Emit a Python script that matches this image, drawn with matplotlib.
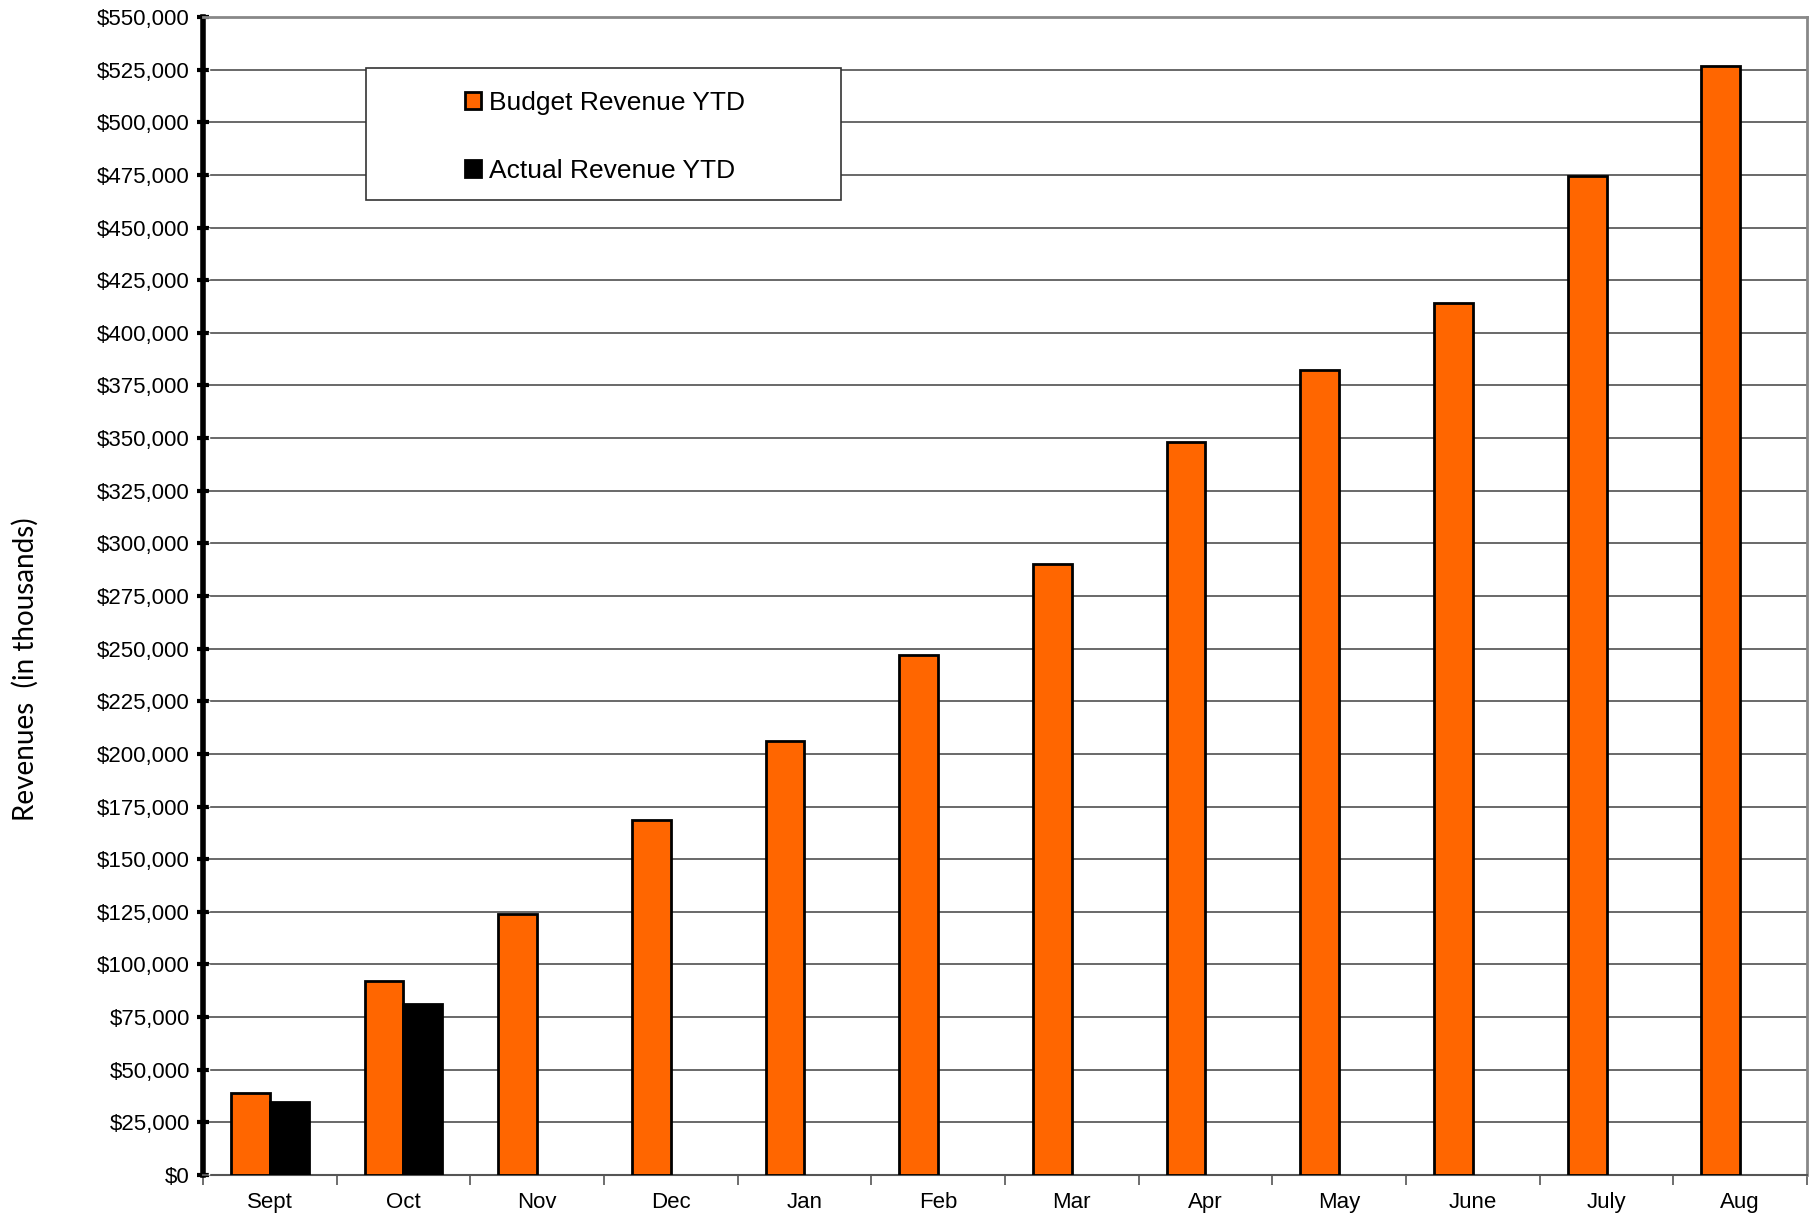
import numpy as np
import matplotlib
matplotlib.use("Agg")
import matplotlib.pyplot as plt
from matplotlib.patches import Rectangle
from matplotlib.ticker import FuncFormatter, MultipleLocator

# data
months = ["Sept", "Oct", "Nov", "Dec", "Jan", "Feb", "Mar", "Apr", "May", "June", "July", "Aug"]
budget_ytd = [39000, 92000, 124000, 168500, 206000, 247000, 290000, 348000, 382500, 414000, 474500, 526500]
actual_ytd = [34500, 81000, np.nan, np.nan, np.nan, np.nan, np.nan, np.nan, np.nan, np.nan, np.nan, np.nan]

ORANGE = "#FF6600"
GRID = "#404040"
FAM = "Liberation Sans"

fig = plt.figure(figsize=(18.17, 12.13), dpi=100)
ax = fig.add_axes([0.1117, 0.0313, 0.9945 - 0.1117, 0.986 - 0.0313])

x = np.arange(len(months))
w = 0.29
ax.bar(x - w / 2, budget_ytd, w, color=ORANGE, edgecolor="black", lw=2,
       label="Budget Revenue YTD", zorder=3)
ax.bar(x + w / 2, actual_ytd, w, color="black", edgecolor="black", lw=2,
       label="Actual Revenue YTD", zorder=3)

ax.set_xlim(-0.5, len(months) - 0.5)
ax.set_ylim(0, 550000)

# y axis
ax.yaxis.set_major_locator(MultipleLocator(25000))
ax.yaxis.set_major_formatter(FuncFormatter(lambda v, p: f"${v:,.0f}"))
ax.tick_params(axis="y", direction="inout", length=9, width=3, color="black",
               labelsize=16, pad=5)
ax.grid(axis="y", color=GRID, lw=1.1, zorder=0)
ax.set_axisbelow(True)

# x axis: ticks at boundaries, labels at centres
ax.set_xticks(np.arange(len(months) + 1) - 0.5)
ax.set_xticklabels([])
ax.set_xticks(x, minor=True)
ax.set_xticklabels(months, minor=True)
ax.tick_params(axis="x", which="major", direction="out", length=7, width=1.2, color="#555555")
ax.tick_params(axis="x", which="minor", length=0, labelsize=16, pad=12)

for lab in ax.get_xticklabels(minor=True) + ax.get_yticklabels():
    lab.set_fontfamily(FAM)

# spines
ax.spines["left"].set_linewidth(4)
ax.spines["left"].set_color("black")
ax.spines["bottom"].set_color("#555555")
ax.spines["bottom"].set_linewidth(1.5)
ax.spines["top"].set_color("#888888")
ax.spines["top"].set_linewidth(2)
ax.spines["right"].set_color("#888888")
ax.spines["right"].set_linewidth(2)
# notched look on the thick left axis
ax.plot([0.0035, 0.0035], [0, 1], transform=ax.transAxes, color="white", lw=1,
        ls=(0, (2, 3)), zorder=5, clip_on=False)

fig.text(0.014, 0.448, "Revenues  (in thousands)", rotation=90, fontsize=20,
         family="Lato", ha="center", va="center")

# legend box
ax.add_patch(Rectangle((0.1016, 0.842), 0.2964, 0.114, transform=ax.transAxes,
                       facecolor="white", edgecolor="#333333", lw=1.2, zorder=4))
leg = ax.legend(loc="center", bbox_to_anchor=(0.2505, 0.8965), frameon=False,
                prop={"family": FAM, "size": 19}, handlelength=0.6, handleheight=0.6,
                handletextpad=0.3, labelspacing=1.65)
leg.set_zorder(5)

fig.savefig("out.png", dpi=100)
